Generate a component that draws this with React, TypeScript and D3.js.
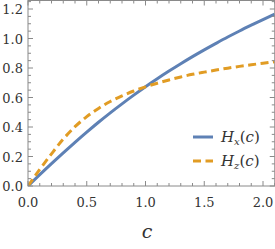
import React from 'react'
import * as d3 from 'd3'

const cValues = [0, 0.1, 0.2, 0.3, 0.4, 0.5, 0.6, 0.7, 0.8, 0.9, 1.0, 1.1, 1.2, 1.3, 1.4, 1.5, 1.6, 1.7, 1.8, 1.9, 2.0, 2.1]
const hx = [0, 0.077, 0.152, 0.225, 0.296, 0.365, 0.432, 0.496, 0.557, 0.616, 0.673, 0.727, 0.779, 0.829, 0.877, 0.923, 0.967, 1.01, 1.051, 1.09, 1.128, 1.165]
const hz = [0, 0.112, 0.218, 0.318, 0.402, 0.47, 0.526, 0.573, 0.611, 0.644, 0.672, 0.697, 0.719, 0.739, 0.757, 0.772, 0.786, 0.799, 0.811, 0.822, 0.832, 0.842]

const xTicks = [0, 0.5, 1.0, 1.5, 2.0]
const yTicks = [0, 0.2, 0.4, 0.6, 0.8, 1.0, 1.2]
const xMinor = [0.1, 0.2, 0.3, 0.4, 0.6, 0.7, 0.8, 0.9, 1.1, 1.2, 1.3, 1.4, 1.6, 1.7, 1.8, 1.9, 2.1]
const yMinor = [0.05, 0.1, 0.15, 0.25, 0.3, 0.35, 0.45, 0.5, 0.55, 0.65, 0.7, 0.75, 0.85, 0.9, 0.95, 1.05, 1.1, 1.15, 1.25]

const series = [
    { name: 'x', values: hx, color: '#5E81B5', dash: null },
    { name: 'z', values: hz, color: '#E19C24', dash: '8,4.5' },
]

const W = 275
const H = 249
const frameColor = '#8a8a8a'
const textColor = '#333'
const font = 'DejaVu Serif'

export default function App() {
    const x = d3.scaleLinear().domain([0, 2]).range([28, 263])
    const y = d3.scaleLinear().domain([0, 1.2]).range([186, 9])
    const left = x(0), right = x(2.1), bottom = y(0), top = 0.5

    const line = d3.line<number>()
        .x((d, i) => x(cValues[i]))
        .y(d => y(d))
        .curve(d3.curveMonotoneX)

    const major = 5, minor = 3

    return (
        <svg width={W} height={H} style={{ position: 'absolute', left: 0, top: 0 }}>
            <defs>
                <clipPath id="plot">
                    <rect x={left} y={top} width={right - left} height={bottom - top} />
                </clipPath>
            </defs>

            <g clipPath="url(#plot)">
                {series.map(s => (
                    <path key={s.name} d={line(s.values) || ''} fill="none" stroke={s.color}
                        strokeWidth={3} strokeDasharray={s.dash || undefined} />
                ))}
            </g>

            {/* frame */}
            <rect x={left} y={top} width={right - left} height={bottom - top}
                fill="none" stroke={frameColor} strokeWidth={1} />

            {/* x ticks, bottom and top */}
            {xTicks.map(t => (
                <g key={'xt' + t}>
                    <line x1={x(t)} x2={x(t)} y1={bottom} y2={bottom - major} stroke={frameColor} />
                    <line x1={x(t)} x2={x(t)} y1={top} y2={top + major} stroke={frameColor} />
                    <text x={x(t)} y={207} textAnchor="middle" fontSize={13} fontFamily={font} fill={textColor}>{t.toFixed(1)}</text>
                </g>
            ))}
            {xMinor.map(t => (
                <g key={'xm' + t}>
                    <line x1={x(t)} x2={x(t)} y1={bottom} y2={bottom - minor} stroke={frameColor} />
                    <line x1={x(t)} x2={x(t)} y1={top} y2={top + minor} stroke={frameColor} />
                </g>
            ))}

            {/* y ticks, left and right */}
            {yTicks.map(t => (
                <g key={'yt' + t}>
                    <line x1={left} x2={left + major} y1={y(t)} y2={y(t)} stroke={frameColor} />
                    <line x1={right} x2={right - major} y1={y(t)} y2={y(t)} stroke={frameColor} />
                    <text x={23} y={y(t) + 5} textAnchor="end" fontSize={13} fontFamily={font} fill={textColor}>{t.toFixed(1)}</text>
                </g>
            ))}
            {yMinor.map(t => (
                <g key={'ym' + t}>
                    <line x1={left} x2={left + minor} y1={y(t)} y2={y(t)} stroke={frameColor} />
                    <line x1={right} x2={right - minor} y1={y(t)} y2={y(t)} stroke={frameColor} />
                </g>
            ))}

            {/* axis label */}
            <text x={147} y={238} textAnchor="middle" fontSize={19} fontStyle="italic" fontFamily={font} fill={textColor}>c</text>

            {/* legend */}
            {series.map((s, i) => {
                const ly = 137 + i * 24
                return (
                    <g key={'lg' + s.name}>
                        <line x1={193} x2={213} y1={ly} y2={ly} stroke={s.color} strokeWidth={3}
                            strokeDasharray={s.dash || undefined} />
                        <text x={221} y={ly + 5} fontSize={15} fontStyle="italic" fontFamily={font} fill={textColor}>
                            H<tspan fontSize={10} dy={3}>{s.name}</tspan>
                            <tspan dy={-3} fontStyle="normal">(</tspan>c<tspan fontStyle="normal">)</tspan>
                        </text>
                    </g>
                )
            })}
        </svg>
    )
}
